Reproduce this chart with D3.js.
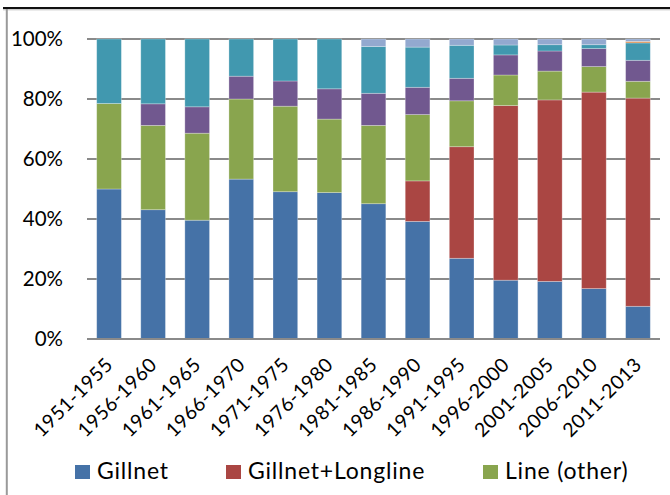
<!DOCTYPE html>
<html>
<head>
<meta charset="utf-8">
<script src="https://cdn.jsdelivr.net/npm/d3@7/dist/d3.min.js"></script>
<style>
  html, body { margin: 0; padding: 0; background: #fff; }
  svg { display: block; font-family: Lato, "Open Sans", sans-serif; }
</style>
</head>
<body>
<svg id="chart" width="670" height="495"></svg>
<script>
// Share of catch by gear type, five-year periods (percent of total)
const categories = ["1951-1955", "1956-1960", "1961-1965", "1966-1970", "1971-1975",
  "1976-1980", "1981-1985", "1986-1990", "1991-1995", "1996-2000", "2001-2005",
  "2006-2010", "2011-2013"];
const gillnet         = [50.0, 43.1, 39.6, 53.3, 49.1, 48.8, 45.1, 39.2, 26.9, 19.6, 19.2, 16.8, 10.9];
const gillnetLongline = [ 0.0,  0.0,  0.0,  0.0,  0.0,  0.0,  0.0, 13.5, 37.2, 58.2, 60.5, 65.5, 69.4];
const lineOther       = [28.5, 28.1, 29.0, 26.7, 28.5, 24.5, 26.1, 22.1, 15.3, 10.2,  9.6,  8.5,  5.6];
const longline        = [ 0.0,  7.2,  8.8,  7.6,  8.4, 10.1, 10.7,  9.1,  7.5,  6.7,  6.7,  6.0,  7.0];
const otherGear       = [21.5, 21.6, 22.6, 12.4, 14.0, 16.6, 15.6, 13.4, 11.0,  3.3,  2.1,  1.3,  5.8];
const trawl           = [ 0.0,  0.0,  0.0,  0.0,  0.0,  0.0,  0.0,  0.0,  0.0,  0.0,  0.0,  0.0,  0.5];
const unknown         = [ 0.0,  0.0,  0.0,  0.0,  0.0,  0.0,  2.5,  2.7,  2.1,  2.0,  1.9,  1.9,  0.8];
const yTicks = [0, 0.2, 0.4, 0.6, 0.8, 1.0];

const series = [
  { key: "Gillnet",          values: gillnet,         color: "#4572A7", legend: true },
  { key: "Gillnet+Longline", values: gillnetLongline, color: "#AA4643", legend: true },
  { key: "Line (other)",     values: lineOther,       color: "#89A54E", legend: true },
  { key: "Longline",         values: longline,        color: "#71588F", legend: false },
  { key: "Other gear",       values: otherGear,       color: "#4198AF", legend: false },
  { key: "Trawl",            values: trawl,           color: "#DB843D", legend: false },
  { key: "Unknown",          values: unknown,         color: "#93A9CF", legend: false }
];

const rows = categories.map((c, i) => {
  const r = { period: c };
  series.forEach(s => { r[s.key] = s.values[i]; });
  return r;
});

const stacked = d3.stack()
  .keys(series.map(s => s.key))
  .offset(d3.stackOffsetExpand)(rows);

const svg = d3.select("#chart");
const plot = { left: 87, right: 660, top: 39, bottom: 339 };

const x = d3.scaleBand().domain(categories).range([plot.left, plot.right]).paddingInner(0.44).paddingOuter(0.22);
const y = d3.scaleLinear().domain([0, 1]).range([plot.bottom, plot.top]);

// outer frame
svg.append("line").attr("x1", 3).attr("x2", 670).attr("y1", 8).attr("y2", 8)
  .attr("stroke", "#111").attr("stroke-width", 2);
svg.append("line").attr("x1", 3).attr("x2", 670).attr("y1", 9.8).attr("y2", 9.8)
  .attr("stroke", "#bbb").attr("stroke-width", 1);
svg.append("line").attr("x1", 6.8).attr("x2", 6.8).attr("y1", 9).attr("y2", 495)
  .attr("stroke", "#9a9a9a").attr("stroke-width", 2);

// gridlines
svg.append("g").selectAll("line").data(yTicks).join("line")
  .attr("x1", plot.left).attr("x2", plot.right)
  .attr("y1", d => y(d)).attr("y2", d => y(d))
  .attr("stroke", "#8a8a8a").attr("stroke-width", 2);

// y tick labels
svg.append("g").selectAll("text").data(yTicks).join("text")
  .attr("x", 63).attr("y", d => y(d)).attr("dy", "0.36em")
  .attr("text-anchor", "end").attr("font-size", 20.5).attr("fill", "#000")
  .text(d3.format(".0%"));

// stacked bars
svg.append("g").selectAll("g").data(stacked).join("g")
  .attr("fill", (d, i) => series[i].color)
  .selectAll("rect").data(d => d).join("rect")
  .attr("x", d => x(d.data.period))
  .attr("width", x.bandwidth())
  .attr("y", d => y(d[1]))
  .attr("height", d => Math.max(0, y(d[0]) - y(d[1])))
  .attr("stroke", "rgba(255,255,255,0.35)").attr("stroke-width", 0.8);

// baseline over the bars
svg.append("line").attr("x1", plot.left).attr("x2", plot.right)
  .attr("y1", y(0)).attr("y2", y(0)).attr("stroke", "#8a8a8a").attr("stroke-width", 2);

// rotated category labels
svg.append("g").selectAll("text").data(categories).join("text")
  .attr("transform", d => `translate(${x(d) + x.bandwidth() / 2 + 5},${plot.bottom + 27}) rotate(-45)`)
  .attr("text-anchor", "end").attr("font-size", 19.5).attr("letter-spacing", 0.5)
  .attr("fill", "#000")
  .text(d => d);

// legend
const legendItems = series.filter(s => s.legend);
const legendX = [75, 226, 483];
const lg = svg.append("g").selectAll("g").data(legendItems).join("g")
  .attr("transform", (d, i) => `translate(${legendX[i]},465)`);
lg.append("rect").attr("width", 15).attr("height", 14).attr("fill", d => d.color);
lg.append("text").attr("x", 22).attr("y", 14).attr("font-size", 23).attr("letter-spacing", 0.8)
  .attr("fill", "#000")
  .text(d => d.key);
</script>
</body>
</html>
